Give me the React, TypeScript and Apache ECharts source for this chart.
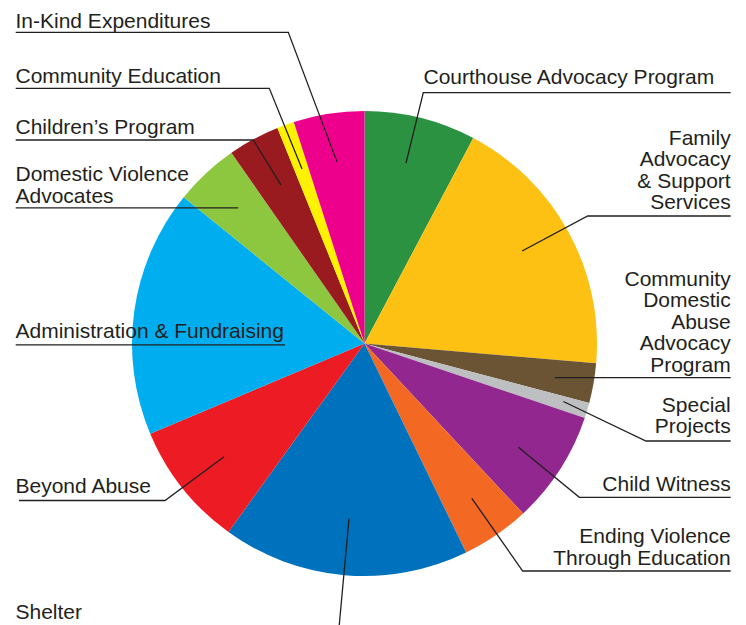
import React, { useEffect, useRef } from 'react';
import * as echarts from 'echarts';

// ---- data ----
const categories = [
  'Courthouse Advocacy Program',
  'Family Advocacy & Support Services',
  'Community Domestic Abuse Advocacy Program',
  'Special Projects',
  'Child Witness',
  'Ending Violence Through Education',
  'Shelter',
  'Beyond Abuse',
  'Administration & Fundraising',
  'Domestic Violence Advocates',
  'Children\u2019s Program',
  'Community Education',
  'In-Kind Expenditures',
];
const labelTexts = [
  'Courthouse Advocacy Program',
  'Family\nAdvocacy\n& Support\nServices',
  'Community\nDomestic\nAbuse\nAdvocacy\nProgram',
  'Special\nProjects',
  'Child Witness',
  'Ending Violence\nThrough Education',
  'Shelter',
  'Beyond Abuse',
  'Administration & Fundraising',
  'Domestic Violence\nAdvocates',
  'Children\u2019s Program',
  'Community Education',
  'In-Kind Expenditures',
];
const values = [7.75, 18.61, 2.76, 1.07, 7.86, 4.75, 17.15, 8.71, 17.16, 4.48, 3.59, 1.19, 4.92];

// ---- styles / layout ----
const colors = [
  '#2A9240', '#FDC113', '#6B5434', '#BDBFC1', '#92278F', '#F36924', '#0071BC',
  '#ED1C24', '#00AEEF', '#8DC63F', '#991B1F', '#FFF200', '#EC008C',
];
const CX = 364.5;
const CY = 343.5;
const R = 232.5;
const FONT = 21;
const LH = 21.4;
// label text anchor: [x, y of last line centre, align]
const labelPos: [number, number, 'left' | 'right'][] = [
  [423.5, 76.7, 'left'],
  [730.7, 201.7, 'right'],
  [730.7, 364, 'right'],
  [730.7, 425.7, 'right'],
  [730.7, 483.3, 'right'],
  [730.7, 557, 'right'],
  [15.5, 611.5, 'left'],
  [15.5, 485, 'left'],
  [15.5, 330, 'left'],
  [15.5, 195, 'left'],
  [15.5, 126.7, 'left'],
  [15.5, 75, 'left'],
  [15.5, 20, 'left'],
];
// leader: elbow point (null = horizontal from anchor) and end x of underline
const elbows: ([number, number] | null)[] = [
  [423.3, 92.7],
  [587.7, 216],
  null,
  [646, 441],
  [579.3, 497.3],
  [522.7, 571],
  [338.6, 632],
  [165, 500.5],
  null,
  null,
  [253.3, 140],
  [269.3, 88.3],
  [288.3, 32.3],
];
const lineEndX = [730.7, 730.7, 730.7, 730.7, 730.7, 730.7, 15, 19, 15.7, 15.7, 15.7, 15.7, 15.7];
// anchor inside slice: fraction of radius, angular offset from mid-angle (deg, clockwise)
const anchorFrac = [0.796, 0.786, 0.832, 0.891, 0.798, 0.81, 0.755, 0.776, 0.342, 0.797, 0.77, 0.797, 0.79];
const anchorRot = [-1.0, -1.8, 0.3, -0.5, 1.15, -0.25, 0.1, -0.4, -9.1, 0, 0.7, 0.15, 0.25];

export default function App() {
  const ref = useRef<HTMLDivElement>(null);
  useEffect(() => {
    if (!ref.current) return;
    const chart = echarts.init(ref.current, undefined, { renderer: 'svg' });
    const sliceData = categories.map((name, i) => ({
      name,
      value: values[i],
      itemStyle: { color: colors[i] },
    }));
    const labelData = categories.map((name, i) => ({ name, value: values[i] }));
    chart.setOption({
      animation: false,
      backgroundColor: '#ffffff',
      series: [
        {
          type: 'pie',
          z: 2,
          center: [CX, CY],
          radius: [0, R],
          startAngle: 90,
          clockwise: true,
          silent: true,
          data: sliceData,
          itemStyle: { borderWidth: 0 },
          emphasis: { disabled: true },
          label: { show: false },
          labelLine: { show: false },
        },
        {
          type: 'pie',
          z: 5,
          center: [CX, CY],
          radius: [0, R],
          startAngle: 90,
          clockwise: true,
          avoidLabelOverlap: false,
          silent: true,
          data: labelData,
          itemStyle: { color: 'rgba(0,0,0,0)', borderWidth: 0 },
          emphasis: { disabled: true },
          label: {
            show: true,
            position: 'outside',
            formatter: (p: any) => labelTexts[p.dataIndex],
            color: '#231F20',
            fontFamily: 'Liberation Sans, Arial, Helvetica, sans-serif',
            fontSize: FONT,
            lineHeight: LH,
          },
          labelLine: {
            show: true,
            showAbove: true,
            smooth: false,
            length: 20,
            length2: 20,
            lineStyle: { color: '#231F20', width: 1.3 },
          },
          labelLayout: (params: any) => {
            const i = params.dataIndex;
            const pts = params.labelLinePoints;
            let vx = 0;
            let vy = -1;
            if (pts && pts[0]) {
              const dx = pts[0][0] - CX;
              const dy = pts[0][1] - CY;
              const len = Math.sqrt(dx * dx + dy * dy) || 1;
              vx = dx / len;
              vy = dy / len;
            }
            const t = (anchorRot[i] * Math.PI) / 180;
            const rx = vx * Math.cos(t) - vy * Math.sin(t);
            const ry = vx * Math.sin(t) + vy * Math.cos(t);
            const a: [number, number] = [CX + rx * R * anchorFrac[i], CY + ry * R * anchorFrac[i]];
            const e = elbows[i] || a;
            const end: [number, number] = [lineEndX[i], e[1]];
            const lp = labelPos[i];
            return {
              x: lp[0],
              y: lp[1] + LH / 2,
              align: lp[2],
              verticalAlign: 'bottom',
              labelLinePoints: [a, [e[0], e[1]], end],
            };
          },
        },
      ],
    });
    return () => chart.dispose();
  }, []);
  return (
    <div
      ref={ref}
      style={{ position: 'absolute', left: 0, top: 0, width: 746, height: 625 }}
    />
  );
}
